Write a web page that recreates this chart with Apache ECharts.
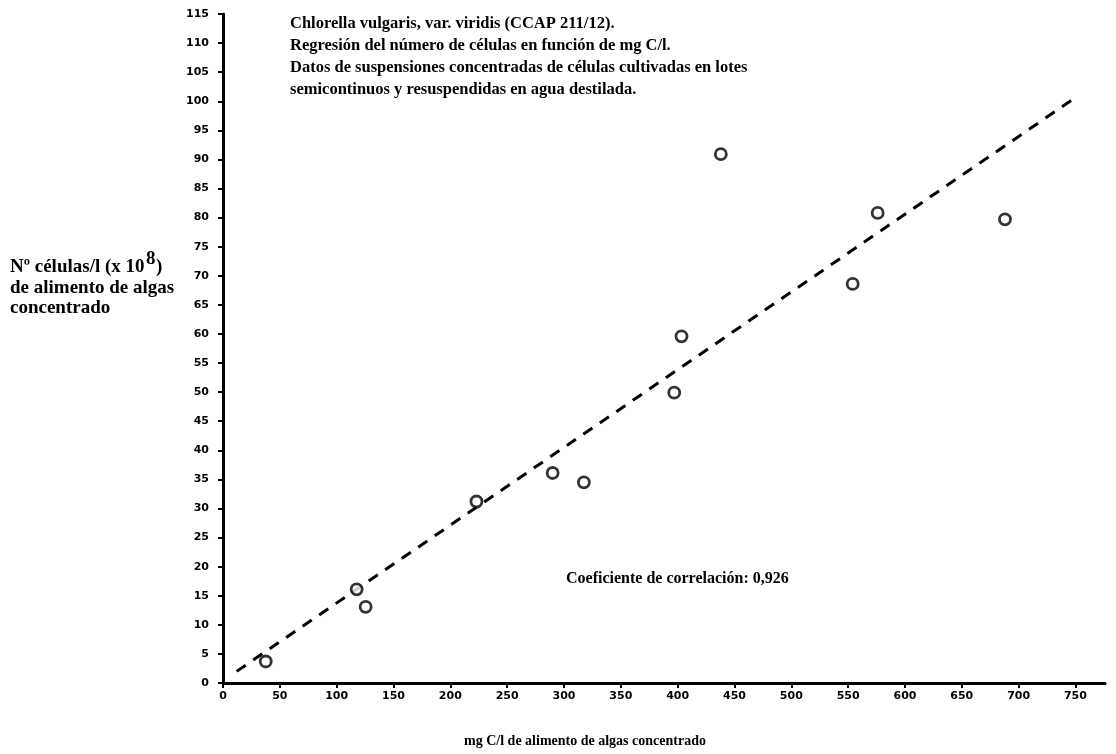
<!DOCTYPE html>
<html>
<head>
<meta charset="utf-8">
<script src="https://cdn.jsdelivr.net/npm/echarts@6/dist/echarts.min.js"></script>
<style>
	html, body {margin: 0; padding: 0; background: #fff;}
	#chart {width: 1116px; height: 754px;}
</style>
</head>
<body>
<div id="chart"></div>
<script>
// puntos medidos (mg C/l, células/l x 10^8)
const mgC = [37.6, 117.6, 125.5, 223, 290, 317.5, 397, 403.4, 438, 554, 576, 688];
const celulas = [3.7, 16.1, 13.1, 31.2, 36.1, 34.5, 49.9, 59.6, 90.9, 68.6, 80.8, 79.7];

// recta de regresion (extremos)
const fitX = [12, 749];
const fitY = [2, 100.5];

const xTicks = [0, 50, 100, 150, 200, 250, 300, 350, 400, 450, 500, 550, 600, 650, 700, 750];

const titleLines = [
	"Chlorella vulgaris, var. viridis (CCAP 211/12).",
	"Regresión del número de células en función de mg C/l.",
	"Datos de suspensiones concentradas de células cultivadas en lotes",
	"semicontinuos y resuspendidas en agua destilada.",
];

const serif = "'Liberation Serif', 'Times New Roman', serif";
const tickFont = "'DejaVu Sans', sans-serif";

const chart = echarts.init(document.getElementById("chart"));

const labelStyle = {fontFamily: serif, fontSize: 19, fontWeight: "bold", color: "#000", lineHeight: 20.5};

// texto del eje y, el exponente va aparte para poder subirlo
const yNameParts = [
	{text: "Nº células/l (x 10", left: 10, top: 257},
	{text: "8", left: 146, top: 249},
	{text: ")", left: 156, top: 257},
	{text: "de alimento de algas\nconcentrado", left: 10, top: 277.5},
];

const options = {
	animation: false,
	backgroundColor: "#fff",
	title: [
		{
			text: titleLines.join("\n"),
			left: 285,
			top: 8,
			textStyle: {fontFamily: serif, fontSize: 16.5, fontWeight: "bold", color: "#000", lineHeight: 22},
		},
		...yNameParts.map((p) => ({
			text: p.text,
			left: p.left,
			top: p.top,
			padding: 0,
			textStyle: labelStyle,
		})),
		{
			text: "Coeficiente de correlación: 0,926",
			left: 561,
			top: 566,
			textStyle: {fontFamily: serif, fontSize: 16, fontWeight: "bold", color: "#000"},
		},
		{
			text: "mg C/l de alimento de algas concentrado",
			left: 580,
			textAlign: "center",
			top: 729,
			textStyle: {fontFamily: serif, fontSize: 14, fontWeight: "bold", color: "#000"},
		},
	],
	grid: {left: 223, right: 11, top: 14, bottom: 71},
	xAxis: {
		type: "value",
		min: 0,
		max: 776,
		interval: 50,
		splitLine: {show: false},
		axisLine: {lineStyle: {color: "#000", width: 3}},
		axisTick: {customValues: xTicks, length: 5, lineStyle: {color: "#000", width: 2}},
		axisLabel: {
			customValues: xTicks,
			margin: 8,
			color: "#000",
			fontFamily: tickFont,
			fontWeight: "bold",
			fontSize: 11,
		},
	},
	yAxis: {
		type: "value",
		min: 0,
		max: 115,
		interval: 5,
		splitLine: {show: false},
		axisLine: {show: true, lineStyle: {color: "#000", width: 3}},
		axisTick: {show: true, length: 5, lineStyle: {color: "#000", width: 2}},
		axisLabel: {
			margin: 14,
			color: "#000",
			fontFamily: tickFont,
			fontWeight: "bold",
			fontSize: 11,
		},
	},
	series: [
		{
			type: "line",
			data: fitX.map((x, i) => [x, fitY[i]]),
			symbol: "none",
			lineStyle: {color: "#000", width: 3, type: [11, 9]},
			z: 1,
		},
		{
			type: "scatter",
			data: mgC.map((x, i) => [x, celulas[i]]),
			symbol: "circle",
			symbolSize: 11,
			itemStyle: {color: "#fff", borderColor: "#000", borderWidth: 2.8},
			z: 3,
		},
	],
};

chart.setOption(options);
</script>
</body>
</html>
